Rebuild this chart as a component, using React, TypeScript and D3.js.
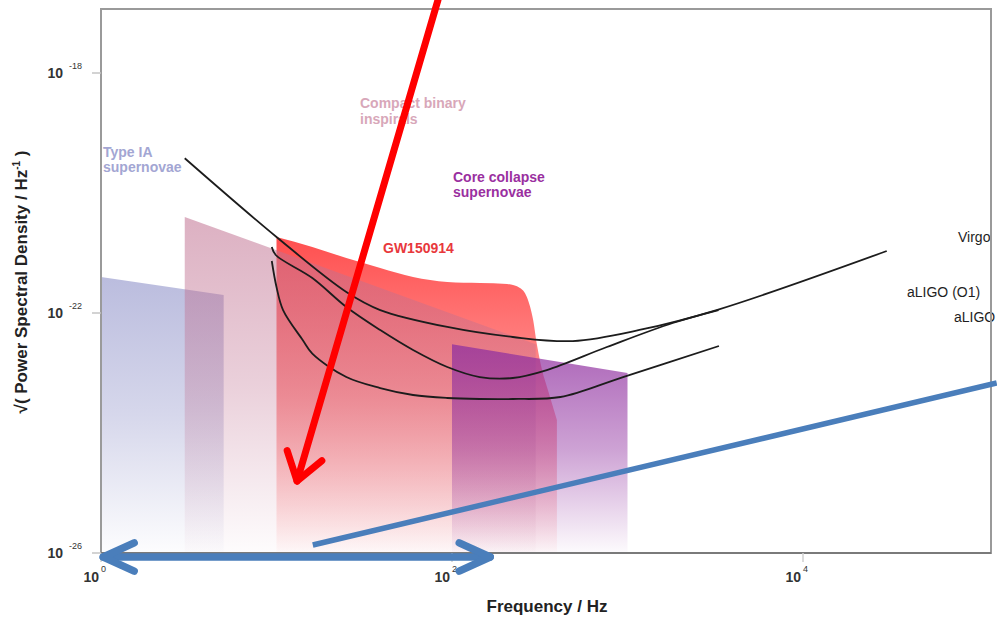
import React from 'react';
import * as d3 from 'd3';

const W = 997;
const H = 617;
const frame = { left: 101, top: 9, right: 991, bottom: 553 };

// Axis decades that carry a label
const xTickExps = [0, 2, 4];
const yTickExps = [-18, -22, -26];

// Source regions: frequency (Hz) and strain amplitude along the top edge
const typeIaFreq = [1, 5];
const typeIaAmp = [4e-22, 2e-22];

const binaryFreq = [3, 300];
const binaryAmp = [4e-21, 3e-23];

const coreFreq = [100, 1000];
const coreAmp = [3e-23, 1e-23];

const gwFreq = [10, 16, 25, 39, 60, 94, 144, 206, 244, 267, 290, 305, 326, 352, 396];
const gwAmp = [1.85e-21, 1.26e-21, 8.26e-22, 5.62e-22, 3.98e-22, 3.29e-22, 3.16e-22, 3.04e-22, 2.61e-22, 1.85e-22, 7.64e-23, 2.93e-23, 1.12e-23, 5.21e-24, 1.65e-24];

// Detector sensitivity curves
const virgoFreq = [3, 10, 25, 39, 94, 222, 488, 1170, 3220, 30000];
const virgoAmp = [3.8e-20, 1.85e-21, 2.24e-22, 1.12e-22, 5.85e-23, 3.98e-23, 3.41e-23, 5.21e-23, 1.12e-22, 1.08e-21];

const o1Freq = [9.4, 9.9, 16, 25, 39, 60, 94, 144, 222, 347, 763, 1810, 3300];
const o1Amp = [1.26e-21, 9.26e-22, 3.83e-22, 1.26e-22, 5.2e-23, 2.42e-23, 1.26e-23, 8.57e-24, 8.26e-24, 1.12e-23, 2.71e-23, 6.81e-23, 1.12e-22];

const aligoFreq = [9.4, 10, 10.9, 14.1, 16, 25, 39, 60, 94, 144, 222, 415, 943, 3320];
const aligoAmp = [7.36e-22, 2.71e-22, 1.12e-22, 3.55e-23, 2.1e-23, 8.57e-24, 5.62e-24, 4.3e-24, 3.83e-24, 3.69e-24, 3.69e-24, 3.98e-24, 8.57e-24, 2.82e-23];

// Annotation strokes, in (frequency, amplitude)
const redArrowFrom = [83.2, 1.65e-17];
const redArrowTo = [13.1, 1.58e-25];
const blueLineFrom = [16.1, 1.36e-26];
const blueLineTo = [1.27e5, 6.8e-24];
const blueSpanFreq = [1.03, 165];
const blueSpanAmp = 8.58e-27;

const x = d3.scaleLog().domain([1, 1e4]).range([101, 803]);
const y = d3.scaleLog().domain([1e-18, 1e-26]).range([73, 553]);

const zip = (f: number[], a: number[]) => f.map((v, i) => [v, a[i]] as [number, number]);

const areaGen = d3
  .area<[number, number]>()
  .x((d) => x(d[0]))
  .y0(y(1e-26))
  .y1((d) => y(d[1]))
  .curve(d3.curveMonotoneX);

const straightArea = d3
  .area<[number, number]>()
  .x((d) => x(d[0]))
  .y0(y(1e-26))
  .y1((d) => y(d[1]));

const lineGen = d3
  .line<[number, number]>()
  .x((d) => x(d[0]))
  .y((d) => y(d[1]))
  .curve(d3.curveCatmullRom.alpha(0.5));

function arrowHead(tip: [number, number], from: [number, number], len: number, ang: number) {
  const a = Math.atan2(from[1] - tip[1], from[0] - tip[0]);
  const p1 = [tip[0] + len * Math.cos(a + ang), tip[1] + len * Math.sin(a + ang)];
  const p2 = [tip[0] + len * Math.cos(a - ang), tip[1] + len * Math.sin(a - ang)];
  return `M${p1[0]},${p1[1]}L${tip[0]},${tip[1]}L${p2[0]},${p2[1]}`;
}

const regions = [
  { id: 'gIa', freq: typeIaFreq, amp: typeIaAmp, color: '#8d90c8', op: 0.6, curved: false },
  { id: 'gGw', freq: gwFreq, amp: gwAmp, color: '#ff3030', op: 0.85, curved: true },
  { id: 'gBin', freq: binaryFreq, amp: binaryAmp, color: '#c07090', op: 0.55, curved: false },
  { id: 'gCore', freq: coreFreq, amp: coreAmp, color: '#9030a0', op: 0.75, curved: false },
];

const font = "'Liberation Sans', Arial, sans-serif";

export default function App() {
  const bottom = y(1e-26);
  const rTail: [number, number] = [x(redArrowFrom[0]), y(redArrowFrom[1])];
  const rTip: [number, number] = [x(redArrowTo[0]), y(redArrowTo[1])];
  const spanY = y(blueSpanAmp);
  const sL: [number, number] = [x(blueSpanFreq[0]), spanY];
  const sR: [number, number] = [x(blueSpanFreq[1]), spanY];

  return (
    <svg
      width={W}
      height={H}
      style={{ position: 'fixed', left: 0, top: 0, background: '#fff' }}
      fontFamily={font}
    >
      <defs>
        {regions.map((r) => {
          const top = d3.min(r.amp.map((a) => y(a))) as number;
          return (
            <linearGradient key={r.id} id={r.id} gradientUnits="userSpaceOnUse" x1={0} x2={0} y1={top} y2={bottom}>
              <stop offset="0" stopColor={r.color} stopOpacity={r.op} />
              <stop offset="0.5" stopColor={r.color} stopOpacity={r.op * 0.6} />
              <stop offset="1" stopColor={r.color} stopOpacity={0.02} />
            </linearGradient>
          );
        })}
      </defs>

      {/* source regions */}
      {regions.map((r) => (
        <path key={r.id} d={(r.curved ? areaGen : straightArea)(zip(r.freq, r.amp)) as string} fill={`url(#${r.id})`} />
      ))}

      {/* sensitivity curves */}
      {[zip(virgoFreq, virgoAmp), zip(o1Freq, o1Amp), zip(aligoFreq, aligoAmp)].map((c, i) => (
        <path key={i} d={lineGen(c) as string} fill="none" stroke="#1c1c1c" strokeWidth={1.8} />
      ))}

      {/* region labels */}
      <g fontWeight="bold" fontSize={14}>
        <text x={103} y={157} fill="#a3a6d3">
          <tspan x={103}>Type IA</tspan>
          <tspan x={103} dy={15}>supernovae</tspan>
        </text>
        <text x={360} y={108} fill="#d8a7b9">
          <tspan x={360}>Compact binary</tspan>
          <tspan x={360} dy={16}>inspirals</tspan>
        </text>
        <text x={453} y={182} fill="#9a2fa0">
          <tspan x={453}>Core collapse</tspan>
          <tspan x={453} dy={15}>supernovae</tspan>
        </text>
        <text x={383} y={253} fill="#e8383c">GW150914</text>
      </g>

      {/* detector labels */}
      <g fontSize={14} fill="#1e1e1e">
        <text x={958} y={242}>Virgo</text>
        <text x={907} y={297}>aLIGO (O1)</text>
        <text x={954} y={322}>aLIGO</text>
      </g>

      {/* frame */}
      <rect
        x={frame.left}
        y={frame.top}
        width={frame.right - frame.left}
        height={frame.bottom - frame.top}
        fill="none"
        stroke="#9a9a9a"
        strokeWidth={2}
      />
      <line x1={frame.left} x2={frame.right} y1={frame.bottom} y2={frame.bottom} stroke="#7a7a7a" strokeWidth={2} />

      {/* y ticks */}
      {yTickExps.map((e) => {
        const ty = y(Math.pow(10, e));
        return (
          <g key={e}>
            <line x1={92} x2={frame.left} y1={ty} y2={ty} stroke="#c4c4c4" strokeWidth={1.5} />
            <text x={63} y={ty + 5} textAnchor="end" fontWeight="bold" fontSize={14} fill="#333">10</text>
            <text x={69} y={ty - 4} fontSize={9} fill="#333">{e}</text>
          </g>
        );
      })}

      {/* x ticks */}
      {xTickExps.map((e) => {
        const tx = x(Math.pow(10, e));
        return (
          <g key={e}>
            <line x1={tx} x2={tx} y1={frame.bottom} y2={frame.bottom + 9} stroke="#d0d0d0" strokeWidth={1.5} />
            <text x={tx - 2} y={582} textAnchor="end" fontWeight="bold" fontSize={14} fill="#333">10</text>
            <text x={tx} y={572} fontSize={9} fill="#333">{e}</text>
          </g>
        );
      })}

      {/* axis titles */}
      <text x={547} y={612} textAnchor="middle" fontWeight="bold" fontSize={17} fill="#222">
        Frequency / Hz
      </text>
      <text
        transform="translate(27,282) rotate(-90)"
        textAnchor="middle"
        fontWeight="bold"
        fontSize={17}
        fill="#222"
      >
        √( Power Spectral Density / Hz
        <tspan fontSize={10} dy={-7}>-1</tspan>
        <tspan dy={7}> )</tspan>
      </text>

      {/* annotation: red arrow */}
      <g stroke="#ff0000" strokeWidth={7} fill="none" strokeLinecap="round" strokeLinejoin="round">
        <line x1={rTail[0]} y1={rTail[1]} x2={rTip[0]} y2={rTip[1]} />
        <path d={arrowHead(rTip, rTail, 32, 0.6)} />
      </g>

      {/* annotation: blue strokes */}
      <g stroke="#4a7ebb" fill="none" strokeLinecap="round" strokeLinejoin="round">
        <line
          x1={x(blueLineFrom[0])}
          y1={y(blueLineFrom[1])}
          x2={x(blueLineTo[0])}
          y2={y(blueLineTo[1])}
          strokeWidth={5.5}
          strokeLinecap="butt"
        />
        <line x1={sL[0]} y1={sL[1]} x2={sR[0]} y2={sR[1]} strokeWidth={7.5} />
        <path d={arrowHead(sL, sR, 34, 0.43)} strokeWidth={7.5} />
        <path d={arrowHead(sR, sL, 34, 0.43)} strokeWidth={7.5} />
      </g>
    </svg>
  );
}
